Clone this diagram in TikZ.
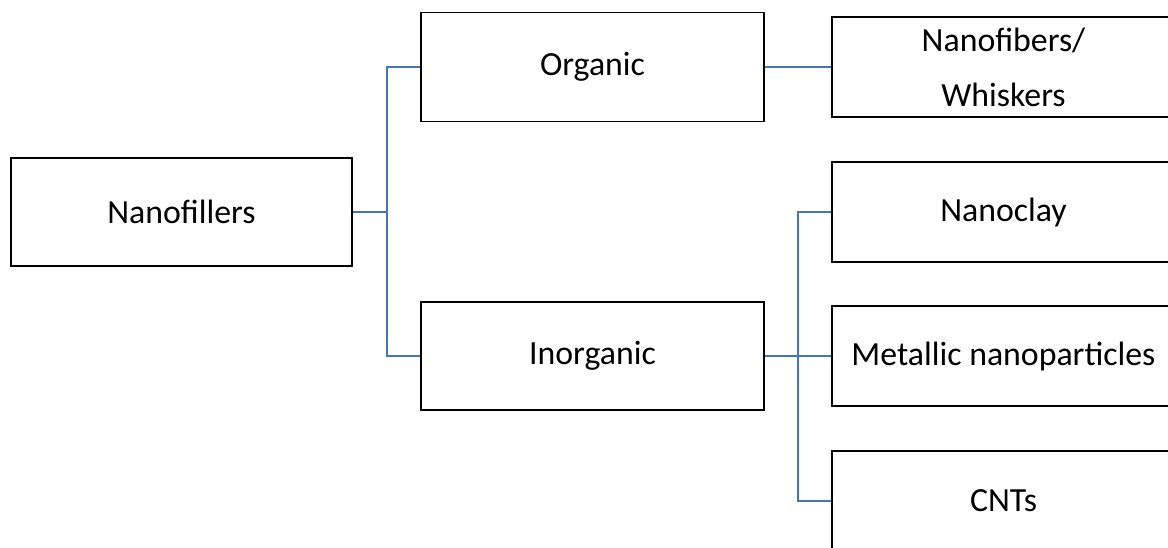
\documentclass[tikz,border=0pt]{standalone}
\usepackage{fontspec}
\setmainfont{Carlito}
\definecolor{connblue}{HTML}{4472C4}
\begin{document}
\begin{tikzpicture}[x=1pt,y=1pt,
  box/.style={draw=black,line width=1.6pt,fill=white,rectangle,inner sep=0pt,
    minimum width=343pt,align=center,font=\fontsize{33.8}{55}\selectfont},
  conn/.style={draw=connblue,line width=1.8pt}]
\useasboundingbox (0,0) rectangle (1168,-547);
\node[box,minimum width=341pt,minimum height=108pt] (nf) at (181.5,-212) {Nanofillers};
\node[box,minimum height=109pt] (org) at (592.5,-67) {Organic};
\node[box,minimum height=108pt] (inorg) at (592.5,-356) {Inorganic};
\node[box,minimum height=100pt] (fib) at (1003.5,-67) {Nanofibers/\\Whiskers};
\node[box,minimum height=100pt] (clay) at (1003.5,-212) {Nanoclay};
\node[box,minimum height=100pt] (metal) at (1003.5,-356) {Metallic nanoparticles};
\node[box,minimum height=100pt] (cnt) at (1003.5,-501) {CNTs};
\coordinate (bus1) at (387,0);
\coordinate (bus2) at (798,0);
\draw[conn] (nf.east) -- (nf.east -| bus1);
\draw[conn] (org.west) -| (bus1 |- inorg.west) -- (inorg.west);
\draw[conn] (org.east) -- (org.east -| fib.west);
\draw[conn] (inorg.east) -- (inorg.east -| bus2);
\draw[conn] (clay.west) -| (bus2 |- cnt.west) -- (cnt.west);
\draw[conn] (metal.west) -- (metal.west -| bus2);
\end{tikzpicture}
\end{document}
